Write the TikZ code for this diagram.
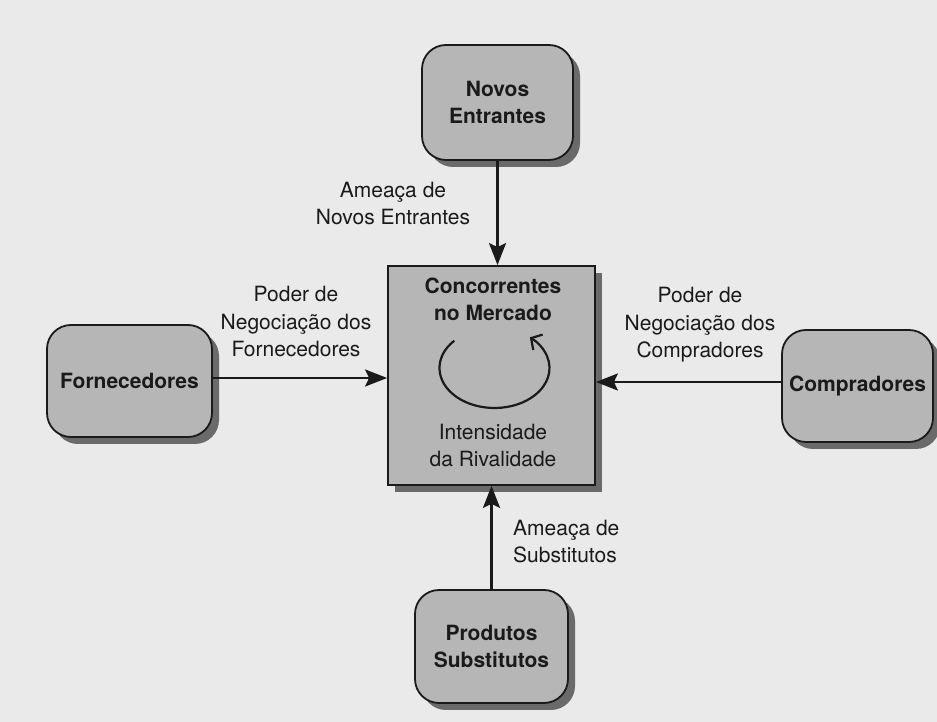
\documentclass[tikz,border=0pt]{standalone}
\usepackage{fontspec}
\setmainfont{TeX Gyre Heros}
\usetikzlibrary{arrows.meta,shadows}
\definecolor{paper}{HTML}{EAEAEA}
\definecolor{boxfill}{HTML}{B6B6B6}
\definecolor{shadowc}{HTML}{6A6A6A}
\definecolor{ink}{HTML}{1A1A1A}
\newcommand\figfont{\fontsize{21}{27.5}\selectfont}
\begin{document}
\begin{tikzpicture}[x=1pt,y=1pt,
  force/.style={draw=ink, line width=1.8pt, fill=boxfill, rounded corners=24pt,
    drop shadow={shadow xshift=7pt, shadow yshift=-7pt, fill=shadowc, opacity=1},
    font=\bfseries\figfont, align=center, inner sep=0pt, text=ink},
  centerbox/.style={draw=ink, line width=1.8pt, fill=boxfill,
    drop shadow={shadow xshift=7pt, shadow yshift=-7pt, fill=shadowc, opacity=1}},
  lbl/.style={font=\figfont, align=center, inner sep=0pt, text=ink},
  arr/.style={draw=ink, line width=2.4pt, -{Stealth[length=22pt,width=17pt,inset=4pt]}}]
\fill[paper] (0,0) rectangle (937,722);
\useasboundingbox (0,0) rectangle (937,722);

\node[force, minimum width=151pt, minimum height=115pt] (nov) at (497.5,619.5) {Novos\\Entrantes};
\node[centerbox, minimum width=207pt, minimum height=219pt] (cb) at (491.5,346.5) {};
\node[force, minimum width=165pt, minimum height=112pt] (forn) at (129.5,341) {Fornecedores};
\node[force, minimum width=151pt, minimum height=112pt] (comp) at (857.5,336) {Compradores};
\node[force, minimum width=153pt, minimum height=113pt] (prod) at (491.5,75.5) {Produtos\\Substitutos};

\node[lbl, font=\bfseries\figfont, anchor=base] (conc) at (493,401) {Concorrentes\\no Mercado};
\node[lbl, anchor=base] (int) at (493,255) {Intensidade\\da Rivalidade};

\node[lbl, anchor=base] (l1) at (393,497) {Ameaça de\\Novos Entrantes};
\node[lbl, anchor=base] (l2) at (296,365) {Poder de\\Negociação dos\\Fornecedores};
\node[lbl, anchor=base] (l3) at (700,364) {Poder de\\Negociação dos\\Compradores};
\node[lbl, anchor=base west, align=left] (l4) at (513,159) {Ameaça de\\Substitutos};

\draw[arr] (nov.south) -- (nov.south |- cb.north);
\draw[arr] (prod.north) -- (prod.north |- cb.south);
\draw[arr] ([yshift=3pt]forn.east) -- ([yshift=3pt]forn.east -| cb.west);
\draw[arr] ([yshift=4pt]comp.west) -- ([yshift=4pt]comp.west -| cb.east);

\coordinate (rc) at (494.5,354);
\draw[draw=ink, line width=2.2pt, -{Straight Barb[length=8pt,width=18pt]}]
  (rc) ++(137:55pt and 40pt) arc[start angle=137, end angle=410, x radius=55pt, y radius=40pt];
\end{tikzpicture}
\end{document}
